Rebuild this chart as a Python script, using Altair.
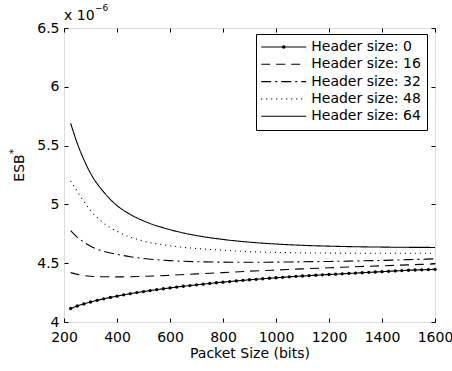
import altair as alt
import pandas as pd

# ---------------- data (ESB in units of 1e-6) ----------------
packet_fine = [225, 250, 275, 300, 325, 350, 375, 400, 425, 450, 475, 500, 525, 550,
               575, 600, 625, 650, 675, 700, 725, 750, 775, 800, 825, 850, 875, 900,
               925, 950, 975, 1000, 1025, 1050, 1075, 1100, 1125, 1150, 1175, 1200,
               1225, 1250, 1275, 1300, 1325, 1350, 1375, 1400, 1425, 1450, 1475, 1500,
               1525, 1550, 1575, 1600]
esb_h0 = [4.115, 4.136, 4.154, 4.170, 4.184, 4.197, 4.209, 4.220, 4.231, 4.241, 4.250,
          4.259, 4.267, 4.275, 4.283, 4.290, 4.297, 4.304, 4.310, 4.316, 4.322, 4.328,
          4.334, 4.339, 4.344, 4.349, 4.354, 4.359, 4.363, 4.368, 4.372, 4.376, 4.380,
          4.384, 4.388, 4.391, 4.394, 4.398, 4.401, 4.404, 4.407, 4.410, 4.413, 4.416,
          4.419, 4.422, 4.425, 4.428, 4.431, 4.434, 4.437, 4.440, 4.442, 4.444, 4.446,
          4.448]

packet_coarse = [225, 250, 275, 300, 350, 400, 450, 500, 600, 700, 800, 900, 1000,
                 1100, 1200, 1300, 1400, 1500, 1600]
esb_h16 = [4.420, 4.405, 4.395, 4.389, 4.385, 4.384, 4.385, 4.388, 4.397, 4.409, 4.420,
           4.432, 4.442, 4.452, 4.461, 4.470, 4.478, 4.486, 4.494]
esb_h32 = [4.776, 4.720, 4.680, 4.645, 4.600, 4.575, 4.555, 4.540, 4.522, 4.513, 4.509,
           4.508, 4.509, 4.512, 4.515, 4.519, 4.524, 4.530, 4.537]
esb_h48 = [5.200, 5.110, 5.025, 4.950, 4.840, 4.770, 4.722, 4.688, 4.648, 4.625, 4.610,
           4.598, 4.592, 4.588, 4.586, 4.585, 4.584, 4.584, 4.584]
esb_h64 = [5.690, 5.520, 5.380, 5.265, 5.105, 4.990, 4.915, 4.860, 4.785, 4.735, 4.702,
           4.679, 4.663, 4.652, 4.645, 4.640, 4.637, 4.635, 4.634]

series_labels = ["Header size: 0", "Header size: 16", "Header size: 32",
                 "Header size: 48", "Header size: 64"]
dash_styles = [[1, 0], [9, 6], [10, 4, 2, 4], [1, 4], [1, 0]]
x_ticks = [200, 400, 600, 800, 1000, 1200, 1400, 1600]
y_ticks = [4, 4.5, 5, 5.5, 6, 6.5]
x_title = "Packet Size (bits)"
y_title = ["ESB"]
y_title_sup = ["*"]
mult_text = ["x 10"]
mult_sup = ["\u22126"]

FONT = "DejaVu Sans"

# ---------------- tables ----------------
rows = []
for p, v in zip(packet_fine, esb_h0):
    rows.append({"packet": p, "esb": v, "header": series_labels[0]})
for lab, vals in zip(series_labels[1:], [esb_h16, esb_h32, esb_h48, esb_h64]):
    for p, v in zip(packet_coarse, vals):
        rows.append({"packet": p, "esb": v, "header": lab})
df = pd.DataFrame(rows)
df0 = pd.DataFrame({"packet": packet_fine, "esb": esb_h0,
                    "marker": [series_labels[0]] * len(packet_fine)})

xscale = alt.Scale(domain=[200, 1600], nice=False, zero=False)
yscale = alt.Scale(domain=[4, 6.5], nice=False, zero=False)

common_axis = dict(tickSize=4, offset=-4, domain=False, grid=False, tickColor="black",
                   tickWidth=1, labelFont=FONT, labelFontSize=14, labelColor="black",
                   labelFlush=False, labelOverlap=False)

legend_common = dict(title=None, orient="none", legendX=192, legendY=6,
                     symbolSize=4, symbolOffset=14.75, labelOffset=20.5,
                     labelFont=FONT, labelFontSize=14, labelColor="black",
                     padding=6, rowPadding=3.3, labelLimit=300)

lines = alt.Chart(df).mark_line(color="black", strokeWidth=1.1, interpolate="monotone").encode(
    x=alt.X("packet:Q", scale=xscale,
            axis=alt.Axis(orient="bottom", values=x_ticks, title=x_title, labelPadding=8,
                          format="d", titleFont=FONT, titleFontSize=14,
                          titleFontWeight="normal", titleColor="black", titlePadding=2,
                          **common_axis)),
    y=alt.Y("esb:Q", scale=yscale,
            axis=alt.Axis(orient="left", values=y_ticks, title=None, format="~g",
                          labelPadding=5, **common_axis)),
    strokeDash=alt.StrokeDash("header:N",
                              scale=alt.Scale(domain=series_labels, range=dash_styles),
                              legend=alt.Legend(symbolType="M-22.5,0H22.5",
                                                symbolStrokeWidth=1.1,
                                                symbolStrokeColor="black",
                                                symbolFillColor="transparent",
                                                strokeColor="black", fillColor="white",
                                                zindex=1, **legend_common)),
)

points = alt.Chart(df0).mark_point(filled=True, size=11, color="black", opacity=1).encode(
    x=alt.X("packet:Q", scale=xscale,
            axis=alt.Axis(orient="top", values=x_ticks, title=None, labels=False,
                          **common_axis)),
    y=alt.Y("esb:Q", scale=yscale,
            axis=alt.Axis(orient="right", values=y_ticks, title=None, labels=False,
                          **common_axis)),
    shape=alt.Shape("marker:N",
                    scale=alt.Scale(domain=[series_labels[0]], range=["circle"]),
                    legend=alt.Legend(symbolType="circle", symbolFillColor="black",
                                      symbolStrokeColor="black", symbolStrokeWidth=0,
                                      labelOpacity=0, strokeColor="transparent",
                                      fillColor="transparent", zindex=2,
                                      **{**legend_common, "symbolSize": 12})),
)

mult = alt.Chart(pd.DataFrame({"t": mult_text})).mark_text(
    font=FONT, fontSize=14, align="left", baseline="alphabetic", color="black"
).encode(x=alt.value(0), y=alt.value(-8), text="t:N")
mult_s = alt.Chart(pd.DataFrame({"t": mult_sup})).mark_text(
    font=FONT, fontSize=9, align="left", baseline="alphabetic", color="black"
).encode(x=alt.value(31), y=alt.value(-17), text="t:N")
ytit = alt.Chart(pd.DataFrame({"t": y_title})).mark_text(
    font=FONT, fontSize=14, align="center", baseline="alphabetic", angle=270, color="black"
).encode(x=alt.value(-40.5), y=alt.value(140), text="t:N")
ytit_s = alt.Chart(pd.DataFrame({"t": y_title_sup})).mark_text(
    font=FONT, fontSize=10, align="left", baseline="alphabetic", angle=270, color="black"
).encode(x=alt.value(-47), y=alt.value(126), text="t:N")

chart = alt.layer(lines, points, mult, mult_s, ytit, ytit_s).properties(
    width=371, height=294,
    autosize=alt.AutoSizeParams(type="none"),
    padding={"left": 64, "top": 28, "right": 17, "bottom": 49},
).configure_view(stroke="black", strokeWidth=1).configure(background="white")

chart.save("out.html", embed_options={"renderer": "svg", "actions": False})
